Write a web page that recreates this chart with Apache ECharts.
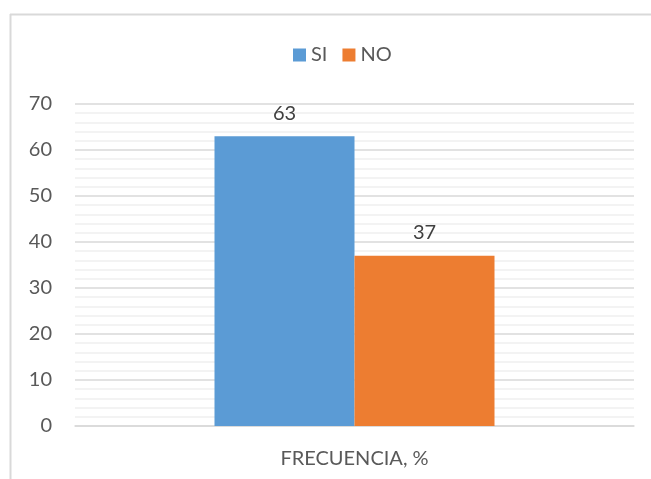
<!DOCTYPE html>
<html><head><meta charset="utf-8">
<script src="https://cdn.jsdelivr.net/npm/echarts@6/dist/echarts.min.js"></script>
<style>html,body{margin:0;padding:0;background:#fff}#c{width:651px;height:479px}</style>
</head><body><div id="c"></div>
<script>
const categories = ['FRECUENCIA, %'];
const siValues = [63];
const noValues = [37];
const seriesNames = ['SI', 'NO'];
const yTicks = {min: 0, max: 70, interval: 10};

const chart = echarts.init(document.getElementById('c'), null, {renderer: 'canvas'});
const font = 'Lato, "Open Sans", sans-serif';
chart.setOption({
  animation: false,
  textStyle: {fontFamily: font},
  graphic: [
    {type: 'line', shape: {x1: 10, y1: 14.5, x2: 651, y2: 14.5}, style: {stroke: '#d9d9d9', lineWidth: 2}},
    {type: 'line', shape: {x1: 10.5, y1: 14, x2: 10.5, y2: 479}, style: {stroke: '#d9d9d9', lineWidth: 2}}
  ],
  legend: {
    data: seriesNames,
    top: 40, left: 288,
    itemWidth: 13, itemHeight: 13, itemGap: 15,
    textStyle: {fontSize: 20, color: '#595959', fontFamily: font},
    icon: 'rect'
  },
  grid: {left: 75, right: 17, top: 104, bottom: 53, containLabel: false},
  xAxis: {
    type: 'category', data: categories,
    axisLine: {show: true, lineStyle: {color: '#d9d9d9', width: 1.5}},
    axisTick: {show: false},
    axisLabel: {fontSize: 20, color: '#595959', margin: 23, fontFamily: font}
  },
  yAxis: {
    type: 'value', min: yTicks.min, max: yTicks.max, interval: yTicks.interval,
    axisLine: {show: false}, axisTick: {show: false},
    axisLabel: {fontSize: 20, color: '#595959', margin: 23, fontFamily: font},
    splitLine: {lineStyle: {color: '#d9d9d9', width: 1.5}},
    minorTick: {show: false, splitNumber: 5},
    minorSplitLine: {show: true, lineStyle: {color: '#f0f0f0', width: 1.5}}
  },
  series: [
    {name: seriesNames[0], type: 'bar', data: siValues, barWidth: 140, barGap: '0%',
     itemStyle: {color: '#5B9BD5'},
     label: {show: true, position: 'top', distance: 13, fontSize: 20, color: '#404040', fontFamily: font}},
    {name: seriesNames[1], type: 'bar', data: noValues, barWidth: 140, barGap: '0%',
     itemStyle: {color: '#ED7D31'},
     label: {show: true, position: 'top', distance: 13, fontSize: 20, color: '#404040', fontFamily: font}}
  ]
});
</script></body></html>
